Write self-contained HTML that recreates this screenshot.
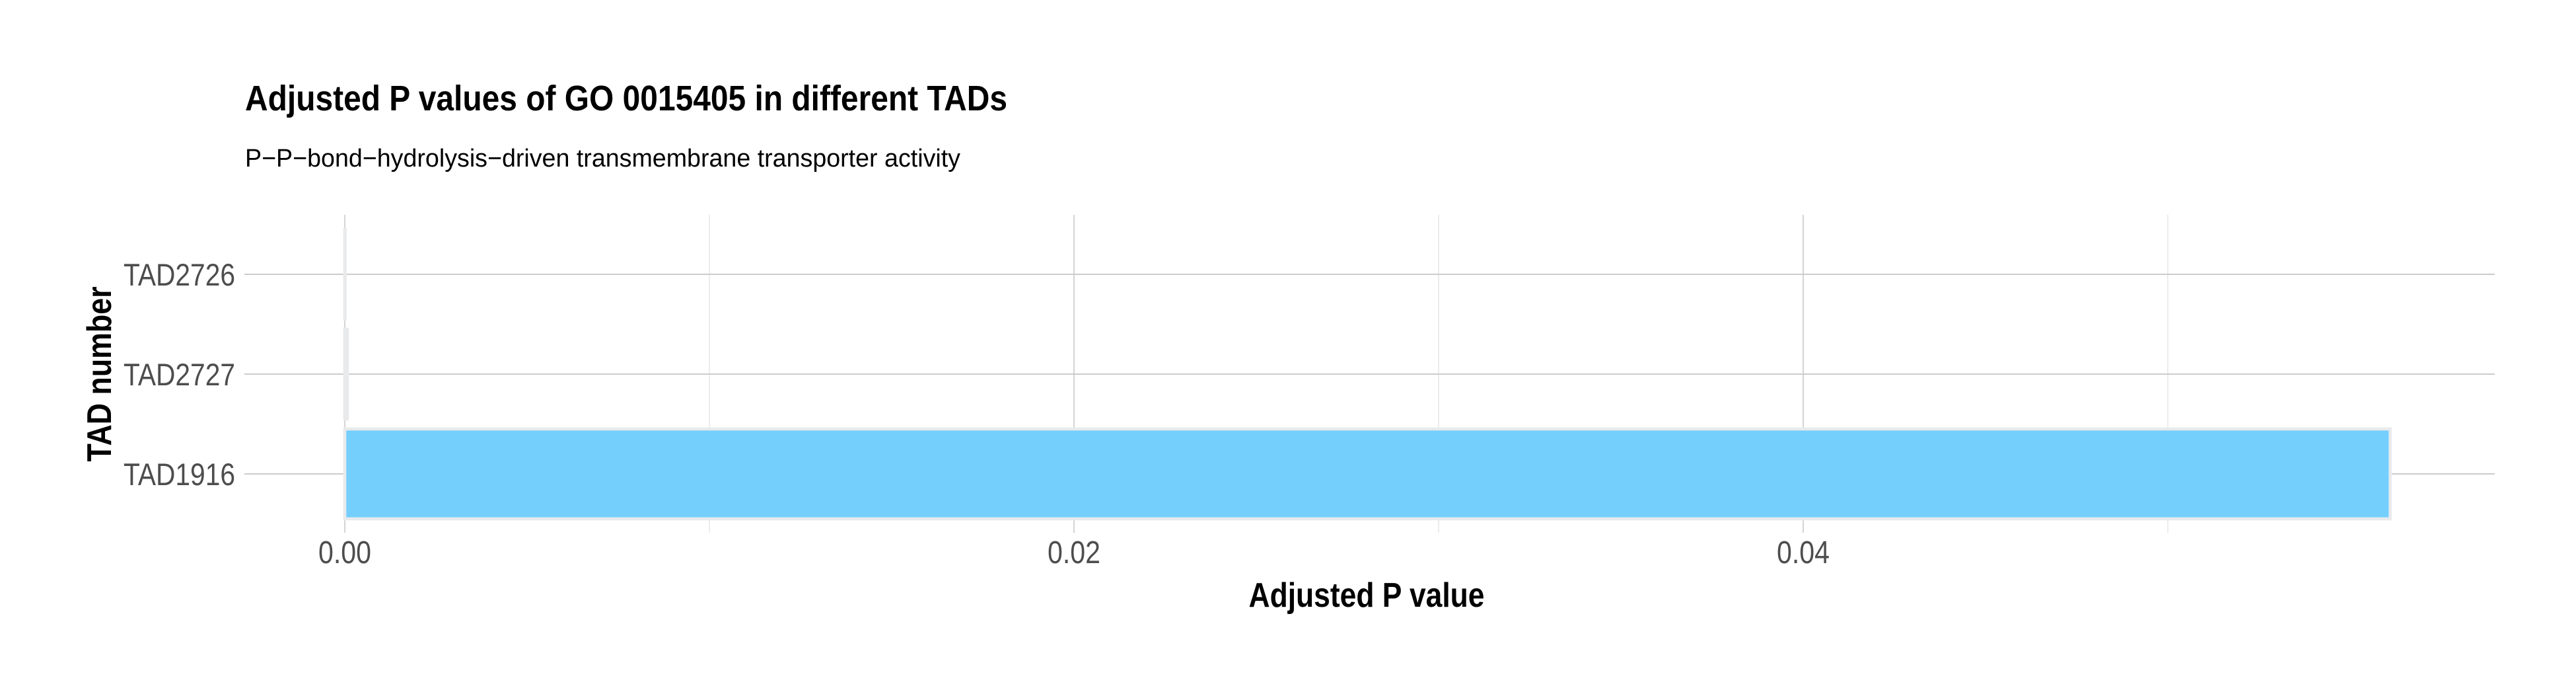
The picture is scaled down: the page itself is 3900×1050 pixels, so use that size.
<!DOCTYPE html>
<html><head><meta charset="utf-8"><style>
html,body{margin:0;padding:0;background:#fff;}
svg{display:block;font-family:"Liberation Sans",sans-serif;}
</style></head><body>
<svg id="chart" width="3900" height="1050" viewBox="0 0 3900 1050">
<rect x="0" y="0" width="3900" height="1050" fill="#ffffff"/>
<text x="371" y="167" font-size="54" font-weight="bold" textLength="1154" lengthAdjust="spacingAndGlyphs">Adjusted P values of GO 0015405 in different TADs</text>
<text x="371" y="252" font-size="38" textLength="1083" lengthAdjust="spacingAndGlyphs">P−P−bond−hydrolysis−driven transmembrane transporter activity</text>
<g id="grid"></g>
<g id="bars"></g>
<g id="yticks"></g>
<g id="xticks"></g>
<text x="2069" y="918" font-size="52" font-weight="bold" text-anchor="middle" textLength="357" lengthAdjust="spacingAndGlyphs">Adjusted P value</text>
<text transform="translate(168,566) rotate(-90)" font-size="52" font-weight="bold" text-anchor="middle" textLength="265" lengthAdjust="spacingAndGlyphs">TAD number</text>
</svg>
<script>
const categories = ["TAD2726", "TAD2727", "TAD1916"];
const values = [0.00001, 0.00007, 0.0561];
const majorTicks = [0, 0.02, 0.04];
const tickLabels = ["0.00", "0.02", "0.04"];
const minorTicks = [0.01, 0.03, 0.05];

const NS = "http://www.w3.org/2000/svg";
const X0 = 522, XS = 55200;
const PL = 370, PR = 3777, PT = 325, PB = 806;
const rowTop = 415, rowStep = 151;
function xs(v){ return X0 + v * XS; }
function ys(i){ return rowTop + i * rowStep; }
function mk(tag, attrs, parent){
  const e = document.createElementNS(NS, tag);
  for (const k in attrs) e.setAttribute(k, attrs[k]);
  parent.appendChild(e);
  return e;
}
const grid = document.getElementById('grid');
minorTicks.forEach(function(t){
  const l = mk('line', {x1: xs(t), x2: xs(t), y1: PT, y2: PB, stroke: '#e6e6e6', 'stroke-width': 1.5}, grid);
  
  
});
majorTicks.forEach(function(t){
  const l = mk('line', {x1: xs(t), x2: xs(t), y1: PT, y2: PB, stroke: '#d0d0d0', 'stroke-width': 1.8}, grid);
  
  
});
categories.forEach(function(c, i){
  const l = mk('line', {x1: PL, x2: PR, y1: ys(i), y2: ys(i), stroke: '#cccccc', 'stroke-width': 2}, grid);
  
  
});
const bars = document.getElementById('bars');
const bh = rowStep * 0.9;
values.forEach(function(v, i){
  const r = mk('rect', {x: xs(0), y: ys(i) - bh/2, width: Math.max(xs(v) - xs(0), 0.5), height: bh, fill: '#75cffd', stroke: '#e8eaec', 'stroke-width': 4.6}, bars);
  
  
});
const yt = document.getElementById('yticks');
categories.forEach(function(c, i){
  const t = mk('text', {x: 356, y: ys(i) + 17, 'font-size': 47, fill: '#4d4d4d', 'text-anchor': 'end', textLength: 169, lengthAdjust: 'spacingAndGlyphs'}, yt);
  t.textContent = c;
  
  
});
const xt = document.getElementById('xticks');
majorTicks.forEach(function(v, i){
  const t = mk('text', {x: xs(v), y: 852, 'font-size': 48, fill: '#4d4d4d', 'text-anchor': 'middle', textLength: 80, lengthAdjust: 'spacingAndGlyphs'}, xt);
  t.textContent = tickLabels[i];
  
  
});
</script>
</body></html>
